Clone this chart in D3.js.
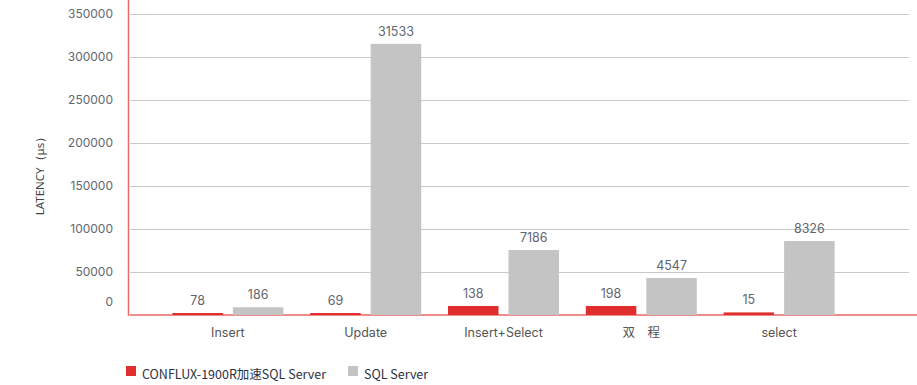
<!DOCTYPE html>
<html>
<head>
<meta charset="utf-8">
<script src="https://cdn.jsdelivr.net/npm/d3@7"></script>
<style>
  body { margin: 0; background: #fff; }
  svg { display: block; }
</style>
</head>
<body>
<div id="chart"></div>
<script>
// categorie e serie
const categories = ["Insert", "Update", "Insert+Select", "双　程", "select"];
const seriesNames = ["CONFLUX-1900R加速SQL Server", "SQL Server"];
// altezze delle barre
const confluxValues = [2300, 2300, 10500, 10500, 3000];
const sqlValues = [9000, 315300, 75600, 43000, 86000];
// etichette scritte sopra le barre
const confluxLabels = ["78", "69", "138", "198", "15"];
const sqlLabels = ["186", "31533", "7186", "4547", "8326"];
const yTicks = [0, 50000, 100000, 150000, 200000, 250000, 300000, 350000];

const width = 917, height = 385;
const colors = ["#e02d2d", "#c4c4c4"];

const svg = d3.select("#chart").append("svg")
    .attr("width", width)
    .attr("height", height);

const y = d3.scaleLinear().domain([0, 350000]).range([315, 14]);
const x0 = d3.scaleBand().domain(categories).range([159, 848]);
const x1 = d3.scaleBand().domain(seriesNames).range([0, 111]).paddingInner(0.165);

// griglia
svg.append("g")
    .selectAll("line")
    .data(yTicks.filter(d => d > 0))
    .enter()
    .append("line")
    .attr("x1", 130).attr("x2", 909)
    .attr("y1", d => Math.round(y(d)) + 0.5)
    .attr("y2", d => Math.round(y(d)) + 0.5)
    .style("stroke", "#c8c8c8")
    .style("stroke-width", 1);

// etichette asse y
svg.append("g")
    .selectAll("text")
    .data(yTicks)
    .enter()
    .append("text")
    .attr("x", 113)
    .attr("y", d => d === 0 ? y(d) - 13 : y(d))
    .attr("dy", "0.35em")
    .style("text-anchor", "end")
    .style("font-family", "Inter, sans-serif")
    .style("font-size", "12px")
    .style("fill", "#5f6670")
    .text(d => d);

// titolo asse y
svg.append("text")
    .attr("transform", "translate(40,173) rotate(-90)")
    .attr("dy", "0.35em")
    .style("text-anchor", "middle")
    .style("font-family", "'Noto Sans', sans-serif")
    .style("font-size", "11.5px")
    .style("fill", "#444")
    .text("LATENCY（μs）");

// assi
svg.append("line")
    .attr("x1", 130).attr("x2", 917)
    .attr("y1", 315).attr("y2", 315)
    .style("stroke", "#f08c8c")
    .style("stroke-width", 2);

svg.append("line")
    .attr("x1", 128.5).attr("x2", 128.5)
    .attr("y1", 0).attr("y2", 316)
    .style("stroke", "#f06a6a")
    .style("stroke-width", 1.5);

// barre
const rows = categories.map((c, i) => ({
    cat: c,
    items: [
        { s: seriesNames[0], v: confluxValues[i], label: confluxLabels[i], color: colors[0] },
        { s: seriesNames[1], v: sqlValues[i], label: sqlLabels[i], color: colors[1] }
    ]
}));

const groups = svg.append("g")
    .selectAll("g")
    .data(rows)
    .enter()
    .append("g")
    .attr("transform", d => `translate(${x0(d.cat) + x0.bandwidth() / 2 - 55.5},0)`);

groups.selectAll("rect")
    .data(d => d.items)
    .enter()
    .append("rect")
    .attr("x", d => x1(d.s))
    .attr("width", x1.bandwidth())
    .attr("y", d => y(d.v))
    .attr("height", d => y(0) - y(d.v))
    .style("fill", d => d.color);

groups.selectAll("text")
    .data(d => d.items)
    .enter()
    .append("text")
    .attr("x", d => x1(d.s) + x1.bandwidth() / 2)
    .attr("y", d => y(d.v) - 8)
    .style("text-anchor", "middle")
    .style("font-family", "Inter, sans-serif")
    .style("font-size", "12.5px")
    .style("fill", "#5f6670")
    .text(d => d.label);

// etichette categorie
svg.append("g")
    .selectAll("text")
    .data(categories)
    .enter()
    .append("text")
    .attr("x", d => x0(d) + x0.bandwidth() / 2)
    .attr("y", 333)
    .attr("dy", "0.35em")
    .style("text-anchor", "middle")
    .style("font-family", "Inter, 'Noto Sans CJK SC', sans-serif")
    .style("font-size", "12.5px")
    .style("fill", "#555")
    .text(d => d);

// legenda
const legendX = [126, 348];
const legend = svg.append("g")
    .selectAll("g")
    .data(seriesNames)
    .enter()
    .append("g")
    .attr("transform", (d, i) => `translate(${legendX[i]},366)`);

legend.append("rect")
    .attr("width", 10).attr("height", 10)
    .style("fill", (d, i) => colors[i]);

legend.append("text")
    .attr("x", 16)
    .attr("y", 13)
    .style("font-family", "'Noto Sans CJK SC', 'Noto Sans', sans-serif")
    .style("font-size", "12.5px")
    .style("fill", "#2c3140")
    .text(d => d);
</script>
</body>
</html>
